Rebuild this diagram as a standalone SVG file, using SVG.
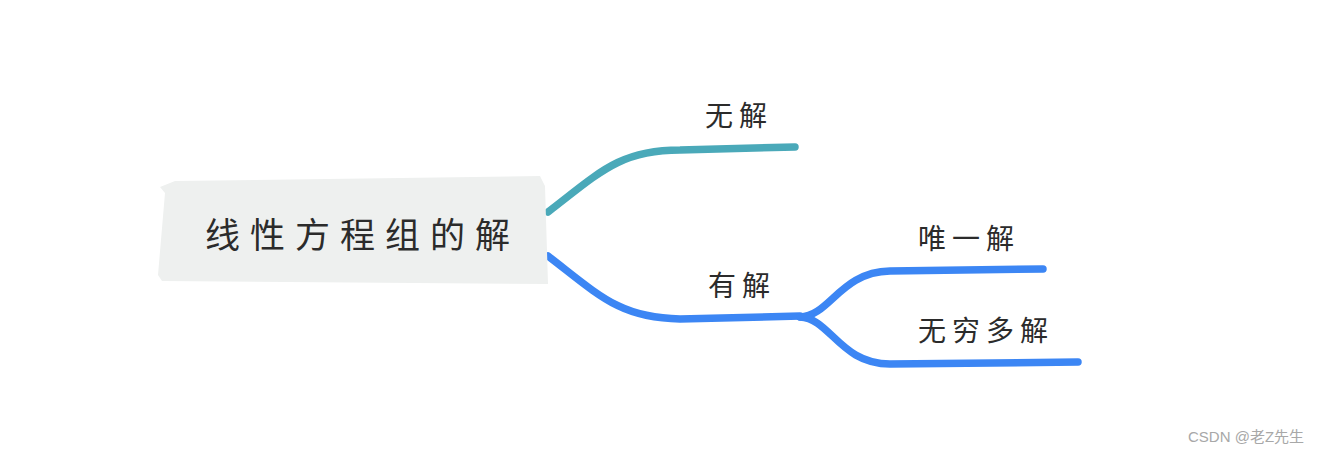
<svg xmlns="http://www.w3.org/2000/svg" width="1320" height="453" viewBox="0 0 1320 453">
<style>
.lbl{font-family:"Noto Sans CJK SC","Noto Sans",sans-serif;fill:#2b2b2b;font-size:28px;letter-spacing:6px}
.root{font-family:"Noto Sans CJK SC","Noto Sans",sans-serif;fill:#2b2b2b;font-size:35px;letter-spacing:10px}
.br{fill:none;stroke-linecap:round;stroke-width:7.5}
.teal{stroke:#4aa9b9}
.blue{stroke:#3c86f4}
.wm{font-family:"Liberation Sans","Noto Sans CJK SC",sans-serif;fill:#a8a8a8;font-size:15px}
</style>
<rect width="1320" height="453" fill="#ffffff"/>
<g id="connectors">
<path class="br teal" d="M548,212 C600,172 620,150 680,150 L795,147"/>
<path class="br blue" d="M548,256 C600,296 620,318 680,319 L800,316"/>
<path class="br blue" d="M800,317 C830,316 840,272 890,271 L1043,269"/>
<path class="br blue" d="M800,317 C830,318 840,364 890,364 L1078,362"/>
</g>
<g id="root">
<path d="M175,181 L540,176 L545,186 L548,284 L162,281 L158,275 L165,193 L160,187 Z" fill="#eef0ef"/>
<text class="root" x="205" y="248">线性方程组的解</text>
</g>
<g id="n1"><text class="lbl" x="705" y="126">无解</text></g>
<g id="n2"><text class="lbl" x="708" y="296">有解</text></g>
<g id="n3"><text class="lbl" x="918" y="249">唯一解</text></g>
<g id="n4"><text class="lbl" x="918" y="341">无穷多解</text></g>
<text class="wm" x="1188" y="442">CSDN @老Z先生</text>
</svg>
